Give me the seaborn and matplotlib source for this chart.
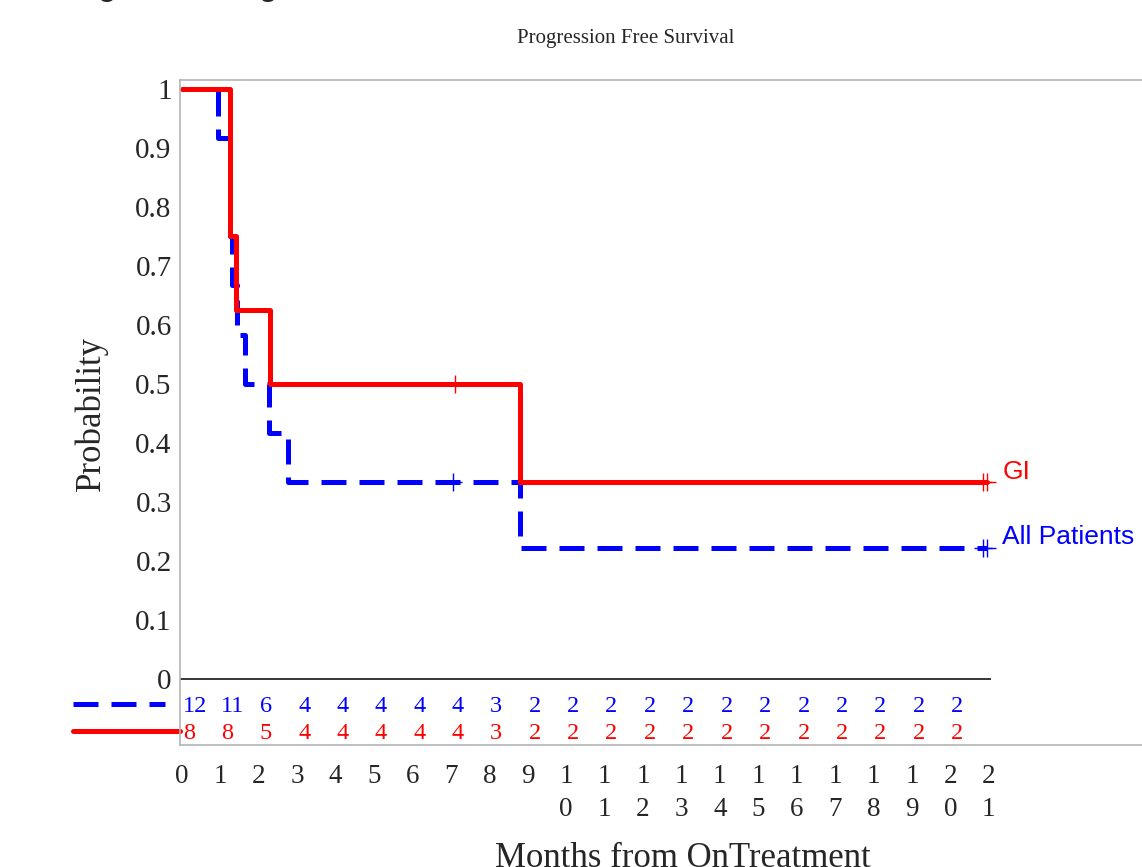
import matplotlib
matplotlib.use("Agg")
import matplotlib.pyplot as plt
import pandas as pd
import seaborn as sns

# Kaplan-Meier step data (months, survival probability)
all_times = [0, 0.94, 1.25, 1.30, 1.43, 1.64, 2.27, 2.76, 8.8, 20.95]
all_surv = [1.0, 0.917, 0.75, 0.667, 0.583, 0.5, 0.417, 0.333, 0.222, 0.222]
gi_times = [0, 1.25, 1.40, 2.29, 8.8, 20.95]
gi_surv = [1.0, 0.75, 0.625, 0.5, 0.333, 0.333]

# censored observations
all_cens_t = [7.05, 20.85, 20.95]
all_cens_s = [0.333, 0.222, 0.222]
gi_cens_t = [7.1, 20.85, 20.95]
gi_cens_s = [0.5, 0.333, 0.333]

# number at risk, month 0..20
risk_months = list(range(21))
all_risk = [12, 11, 6, 4, 4, 4, 4, 4, 3, 2, 2, 2, 2, 2, 2, 2, 2, 2, 2, 2, 2]
gi_risk = [8, 8, 5, 4, 4, 4, 4, 4, 3, 2, 2, 2, 2, 2, 2, 2, 2, 2, 2, 2, 2]

x_ticks = list(range(22))
y_ticks = [0, 0.1, 0.2, 0.3, 0.4, 0.5, 0.6, 0.7, 0.8, 0.9, 1]
y_labels = ["0", "0.1", "0.2", "0.3", "0.4", "0.5", "0.6", "0.7", "0.8", "0.9", "1"]

BLUE = "#0000ff"
RED = "#ff0000"

df = pd.concat([
    pd.DataFrame({"time": all_times, "surv": all_surv, "group": "All Patients"}),
    pd.DataFrame({"time": gi_times, "surv": gi_surv, "group": "GI"}),
])
cens = pd.concat([
    pd.DataFrame({"time": all_cens_t, "surv": all_cens_s, "group": "All Patients"}),
    pd.DataFrame({"time": gi_cens_t, "surv": gi_cens_s, "group": "GI"}),
])

sns.set_style("white")
plt.rcParams["font.family"] = ["Liberation Serif", "DejaVu Serif"]

fig = plt.figure(figsize=(11.42, 8.67), dpi=100)
ax = fig.add_axes([180 / 1142, 1 - 745 / 867, 1020 / 1142, 665 / 867])

pal = {"All Patients": BLUE, "GI": RED}
sns.lineplot(data=df, x="time", y="surv", hue="group", style="group",
             hue_order=["All Patients", "GI"], style_order=["All Patients", "GI"],
             palette=pal, dashes={"All Patients": (5, 2.6), "GI": ""},
             drawstyle="steps-post", estimator=None, sort=True,
             linewidth=3.6, legend=False, ax=ax)
sns.scatterplot(data=cens, x="time", y="surv", hue="group", palette=pal,
                marker="+", s=170, linewidth=1.0, legend=False, ax=ax, zorder=5)

ax.set_xlim(-0.052, 26.5)
ax.set_ylim(-0.112, 1.015)

# zero line
ax.hlines(0, -0.05, 21.05, color="black", linewidth=1.1)

# number at risk table
for m, a, g in zip(risk_months, all_risk, gi_risk):
    ax.text(m + 0.02, -0.046, str(a), color=BLUE, fontsize=17.5, ha="left", va="center")
    ax.text(m + 0.02, -0.092, str(g), color=RED, fontsize=17.5, ha="left", va="center")
ax.plot([-2.84, -0.45], [-0.042, -0.042], color=BLUE, linewidth=3.6,
        linestyle=(0, (5, 2.6)), clip_on=False)
ax.plot([-2.84, -0.05], [-0.088, -0.088], color=RED, linewidth=3.6, clip_on=False)

# curve labels
ax.text(21.35, 0.351, "GI", color=RED, fontsize=19, family="Liberation Sans", va="center")
ax.text(21.35, 0.241, "All Patients", color=BLUE, fontsize=19, family="Liberation Sans", va="center")

ax.set_xticks(x_ticks)
ax.set_xticklabels(["\n".join(str(t)) for t in x_ticks], fontsize=19.5, linespacing=1.42)
ax.set_yticks(y_ticks)
ax.set_yticklabels(y_labels, fontsize=21)
ax.tick_params(axis="x", length=0, pad=14)
ax.tick_params(axis="y", length=0, pad=6)

ax.set_xlabel("Months from OnTreatment", fontsize=25)
ax.set_ylabel("Probability", fontsize=25)
ax.xaxis.set_label_coords(0.493, -0.17)
ax.yaxis.set_label_coords(-0.087, 0.499)
ax.xaxis.label.set_va("center")
ax.yaxis.label.set_va("center")

for side in ["left", "top", "bottom", "right"]:
    ax.spines[side].set_color("#b4b4b4")
    ax.spines[side].set_linewidth(1.2)

fig.text(626 / 1142, 1 - 38 / 867, "Progression Free Survival", fontsize=15,
         ha="center", va="center")
fig.text(0.062, 1.006, "Figure 1: Progression Free Survival for the GI cohort and All Patients",
         fontsize=22, fontweight="bold", family="Liberation Sans", va="baseline")

fig.savefig("out.png", dpi=100)
